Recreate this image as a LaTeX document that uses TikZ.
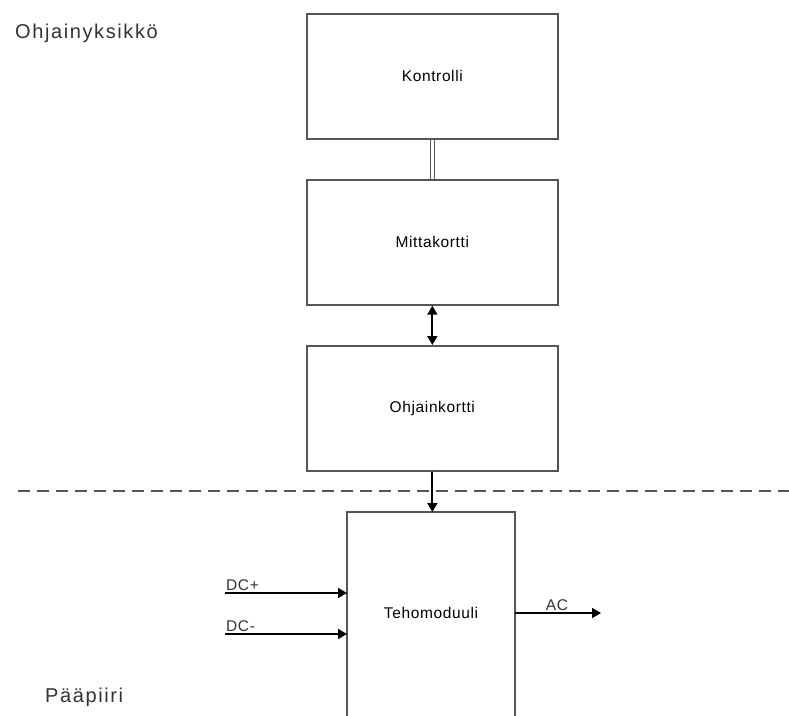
\documentclass[tikz,border=0pt]{standalone}
\usepackage{fontspec}
\setmainfont{Liberation Sans}
\usetikzlibrary{arrows.meta}
\definecolor{boxgray}{HTML}{555555}
\definecolor{txt}{HTML}{333333}
\newcommand{\boxfont}{\fontsize{15.5}{17}\selectfont\addfontfeature{LetterSpace=4}}
\begin{document}
\begin{tikzpicture}[x=1pt,y=-1pt,
  blk/.style={draw=boxgray,line width=1.7pt,minimum width=251pt,minimum height=125pt,anchor=north west,inner sep=0pt},
  conn/.style={line width=1.8pt,black},
  tip/.style={-{Triangle[length=9pt,width=10pt]}},
  lbl/.style={font=\boxfont,text=txt,inner sep=0pt},
  big/.style={font=\fontsize{20}{23}\selectfont\addfontfeature{LetterSpace=8},text=txt,inner sep=0pt}]
\useasboundingbox (0,0) rectangle (789,715);
\node[blk] (kon) at (306,13) {};
\node[font=\boxfont] at (kon.center) {Kontrolli};
\node[blk] (mit) at (306,179) {};
\node[font=\boxfont] at (mit.center) {Mittakortti};
\node[blk] (ohj) at (306,345) {};
\node[font=\boxfont] at (ohj.center) {Ohjainkortti};
% Tehomoduuli (open bottom)
\coordinate (tbl) at (347,718);
\coordinate (ttl) at (347,512);
\coordinate (ttr) at (515,512);
\coordinate (tbr) at (515,718);
\draw[draw=boxgray,line width=1.7pt] (tbl) -- (ttl) -- (ttr) -- (tbr);
\node[font=\boxfont] (teho) at (431,613) {Tehomoduuli};
% double line
\draw[boxgray,line width=1.2pt] ([xshift=-2pt]kon.south) -- ([xshift=-2pt]mit.north);
\draw[boxgray,line width=1.2pt] ([xshift=2pt]kon.south) -- ([xshift=2pt]mit.north);
% double arrow
\draw[conn,{Triangle[length=9pt,width=10pt]}-{Triangle[length=9pt,width=10pt]}] (mit.south) -- (ohj.north);
% arrow to Tehomoduuli
\coordinate (tetop) at (ohj.south |- 0,512);
\draw[conn,tip] (ohj.south) -- (tetop);
% dashed separator
\coordinate (d1) at (18,491);
\coordinate (d2) at (789,491);
\draw[boxgray,line width=1.6pt,dash pattern=on 12pt off 7pt] (d1) -- (d2);
% DC inputs
\coordinate (dcp) at (225,593);
\coordinate (dcpe) at (347,593);
\coordinate (dcm) at (225,634);
\coordinate (dcme) at (347,634);
\draw[conn,tip] (dcp) -- (dcpe);
\draw[conn,tip] (dcm) -- (dcme);
\node[lbl,anchor=south west] (dcpl) at (226,591) {DC+};
\node[lbl,anchor=south west] (dcml) at (226,632) {DC-};
% AC output
\coordinate (acs) at (515,613);
\coordinate (ace) at (601,613);
\draw[conn,tip] (acs) -- (ace);
\node[lbl,anchor=south] (acl) at (557,611) {AC};
% region labels
\node[big,anchor=west] (ry) at (15,33) {Ohjainyksikkö};
\node[big,anchor=west] (pp) at (45,697) {Pääpiiri};
\end{tikzpicture}
\end{document}
